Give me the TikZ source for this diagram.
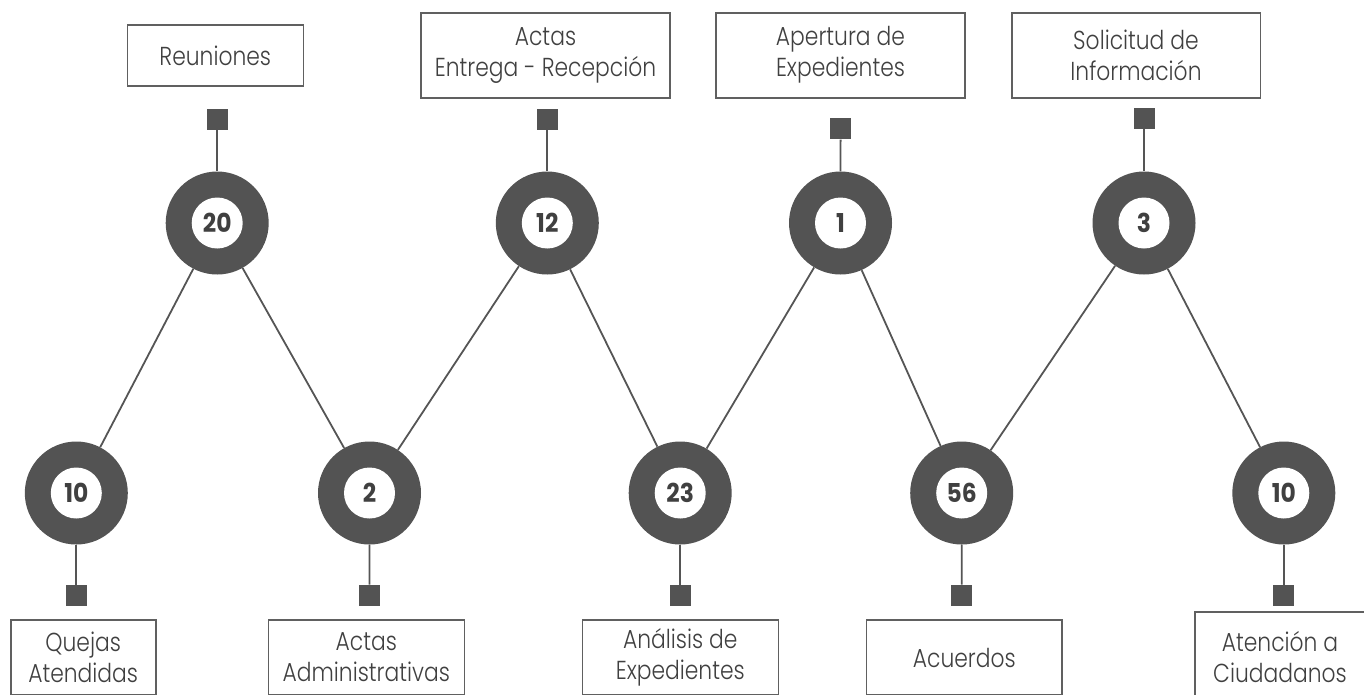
\documentclass[tikz,border=0pt]{standalone}
\usepackage{fontspec}
\setmainfont{Poppins Light}[FakeStretch=0.84]
\newfontfamily\numfont{Poppins Bold}[FakeStretch=0.9]
\definecolor{ringc}{HTML}{535353}
\definecolor{linec}{HTML}{555555}
\definecolor{boxc}{HTML}{606060}
\definecolor{txtc}{HTML}{404040}
\tikzset{
  ring/.style={circle, fill=ringc, minimum size=103pt, inner sep=0pt},
  hole/.style={circle, fill=white, minimum size=51pt, inner sep=0pt, text=txtc, font=\numfont\fontsize{26}{26}\selectfont},
  sq/.style={rectangle, fill=ringc, minimum size=21pt, inner sep=0pt},
  lbl/.style={rectangle, draw=boxc, line width=1.6pt, inner sep=0pt, align=center, text=txtc, font=\fontsize{26}{31}\selectfont},
  conn/.style={draw=linec, line width=1.8pt}
}
\begin{document}
\begin{tikzpicture}[x=1pt,y=-1pt]
\useasboundingbox (0,0) rectangle (1364,694);
\clip (0,0) rectangle (1364,694);
% top boxes
\node[lbl, minimum width=176pt, minimum height=60.7pt] (bReu) at (215.3,55.35) {Reuniones};
\node[lbl, minimum width=249pt, minimum height=85pt] (bAct) at (545.5,55.2) {Actas\\Entrega - Recepción};
\node[lbl, minimum width=249pt, minimum height=85pt] (bApe) at (840.5,55.2) {Apertura de\\Expedientes};
\node[lbl, minimum width=248.6pt, minimum height=85pt] (bSol) at (1136,55.2) {Solicitud de\\Información};
% bottom boxes
\node[lbl, minimum width=145pt, minimum height=75pt] (bQue) at (83.2,657.5) {Quejas\\Atendidas};
\node[lbl, minimum width=196pt, minimum height=75pt] (bAdm) at (366.3,657.5) {Actas\\Administrativas};
\node[lbl, minimum width=196pt, minimum height=75pt] (bAna) at (680.3,657.5) {Análisis de\\Expedientes};
\node[lbl, minimum width=195.3pt, minimum height=75pt] (bAcu) at (964.3,657.5) {Acuerdos};
\node[lbl, minimum width=170pt, minimum height=91.6pt] (bAte) at (1280,657.5) {Atención a\\Ciudadanos};
% circles
\node[ring] (c20) at (217.2,223) {};
\node[ring] (c12) at (547.3,223) {};
\node[ring] (c1) at (840.5,223) {};
\node[ring] (c3) at (1144,223) {};
\node[ring] (c10) at (76.3,493) {};
\node[ring] (c2) at (369.5,493) {};
\node[ring] (c23) at (680.2,493) {};
\node[ring] (c56) at (961.7,493) {};
\node[ring] (c10b) at (1283.8,493) {};
% squares
\node[sq] (s20) at (217.2,119.7) {};
\node[sq] (s12) at (547.3,119.7) {};
\node[sq] (s1) at (840.6,128.8) {};
\node[sq] (s3) at (1144,118) {};
\node[sq] (s10) at (76.3,595.2) {};
\node[sq] (s2) at (369.4,595.2) {};
\node[sq] (s23) at (680.2,595.2) {};
\node[sq] (s56) at (961.8,595.2) {};
\node[sq] (s10b) at (1283.8,595.2) {};
% connectors
\path[conn] (c10) -- (c20) -- (c2) -- (c12) -- (c23) -- (c1) -- (c56) -- (c3) -- (c10b);
\path[conn] (s20) -- (c20);
\path[conn] (s12) -- (c12);
\path[conn] (s1) -- (c1);
\path[conn] (s3) -- (c3);
\path[conn] (c10) -- (s10);
\path[conn] (c2) -- (s2);
\path[conn] (c23) -- (s23);
\path[conn] (c56) -- (s56);
\path[conn] (c10b) -- (s10b);
% numbers
\node[hole] (n20) at (c20) {20};
\node[hole] (n12) at (c12) {12};
\node[hole] (n1) at (c1) {1};
\node[hole] (n3) at (c3) {3};
\node[hole] (n10) at (c10) {10};
\node[hole] (n2) at (c2) {2};
\node[hole] (n23) at (c23) {23};
\node[hole] (n56) at (c56) {56};
\node[hole] (n10b) at (c10b) {10};
\end{tikzpicture}
\end{document}
